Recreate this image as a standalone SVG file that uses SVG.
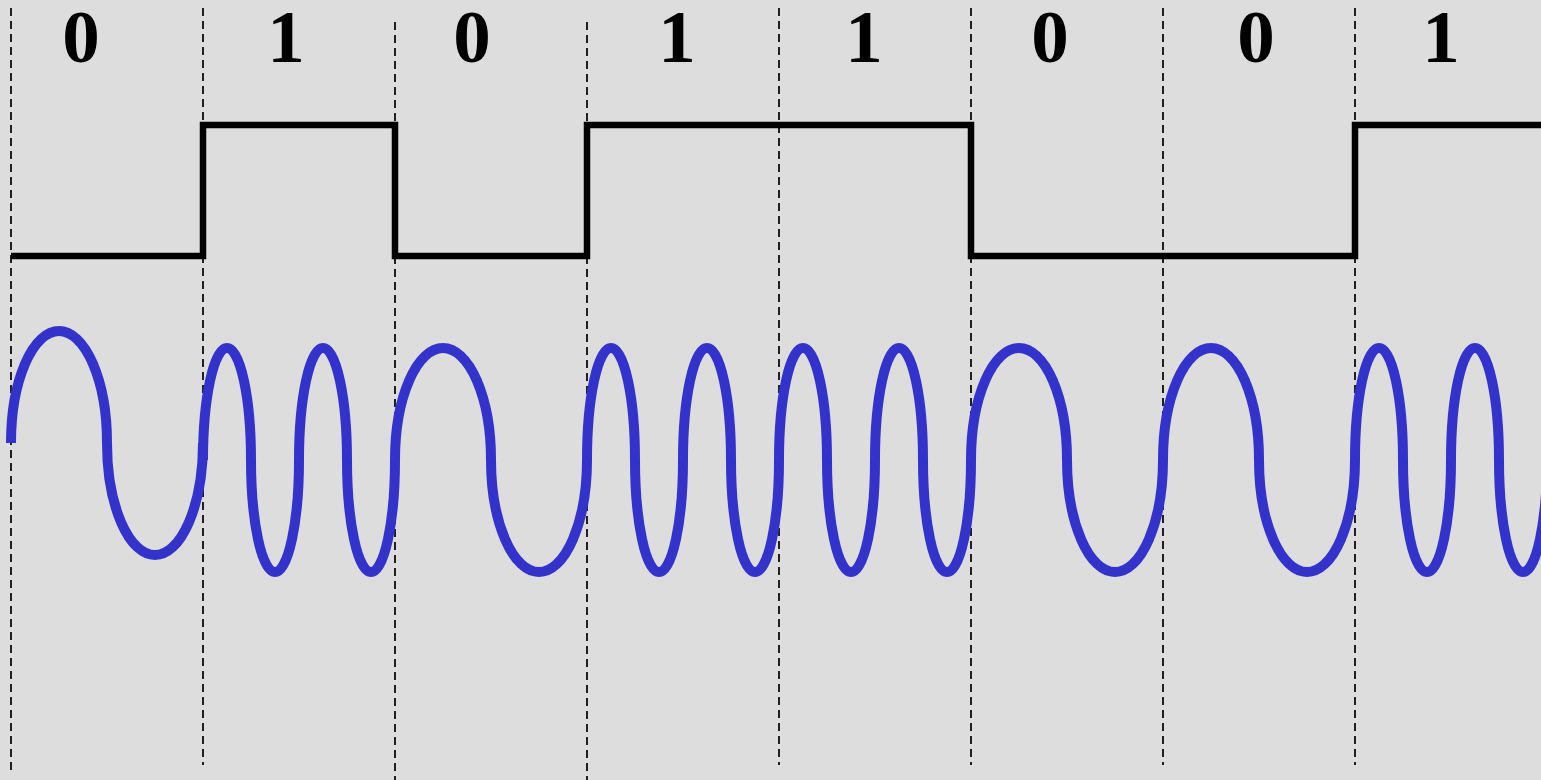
<svg xmlns="http://www.w3.org/2000/svg" width="1541" height="780" viewBox="0 0 1541 780">
<style>
.grid{stroke:#000;stroke-width:1.7;stroke-dasharray:8 5;fill:none}
.bit{font-family:"Liberation Serif","Times New Roman",serif;font-weight:bold;font-size:75px;fill:#000;text-anchor:middle}
.sq{stroke:#000;stroke-width:6.5;fill:none;stroke-linejoin:miter}
.wave{stroke:#3333CC;stroke-width:10;fill:none}
</style>
<rect x="0" y="0" width="1541" height="780" fill="#DDDDDD"/>
<g id="gridlines">
<line class="grid" x1="11" y1="8" x2="11" y2="770"/>
<line class="grid" x1="203" y1="8" x2="203" y2="765"/>
<line class="grid" x1="395" y1="22" x2="395" y2="780"/>
<line class="grid" x1="587" y1="22" x2="587" y2="780"/>
<line class="grid" x1="779" y1="8" x2="779" y2="765"/>
<line class="grid" x1="971" y1="8" x2="971" y2="765"/>
<line class="grid" x1="1163" y1="8" x2="1163" y2="765"/>
<line class="grid" x1="1355" y1="8" x2="1355" y2="765"/>
</g>
<g id="labels">
<text class="bit" x="81" y="62">0</text>
<text class="bit" x="286" y="62">1</text>
<text class="bit" x="472" y="62">0</text>
<text class="bit" x="677" y="62">1</text>
<text class="bit" x="864" y="62">1</text>
<text class="bit" x="1050" y="62">0</text>
<text class="bit" x="1256" y="62">0</text>
<text class="bit" x="1441" y="62">1</text>
</g>
<g id="digital-signal">
<polyline class="sq" points="11,256 203,256 203,125 395,125 395,256 587,256 587,125 971,125 971,256 1355,256 1355,125 1541,125"/>
</g>
<g id="fsk-signal">
<path class="wave" d="M11,443 A48,112 0 0 1 107,443 A48,112 0 0 0 203,443 L203,460"/>
<path class="wave" d="M203,460 A24,112 0 0 1 251,460 A24,112 0 0 0 299,460 A24,112 0 0 1 347,460 A24,112 0 0 0 395,460"/>
<path class="wave" d="M395,460 A48,112 0 0 1 491,460 A48,112 0 0 0 587,460"/>
<path class="wave" d="M587,460 A24,112 0 0 1 635,460 A24,112 0 0 0 683,460 A24,112 0 0 1 731,460 A24,112 0 0 0 779,460"/>
<path class="wave" d="M779,460 A24,112 0 0 1 827,460 A24,112 0 0 0 875,460 A24,112 0 0 1 923,460 A24,112 0 0 0 971,460"/>
<path class="wave" d="M971,460 A48,112 0 0 1 1067,460 A48,112 0 0 0 1163,460"/>
<path class="wave" d="M1163,460 A48,112 0 0 1 1259,460 A48,112 0 0 0 1355,460"/>
<path class="wave" d="M1355,460 A24,112 0 0 1 1403,460 A24,112 0 0 0 1451,460 A24,112 0 0 1 1499,460 A24,112 0 0 0 1547,460"/>
</g>
</svg>
